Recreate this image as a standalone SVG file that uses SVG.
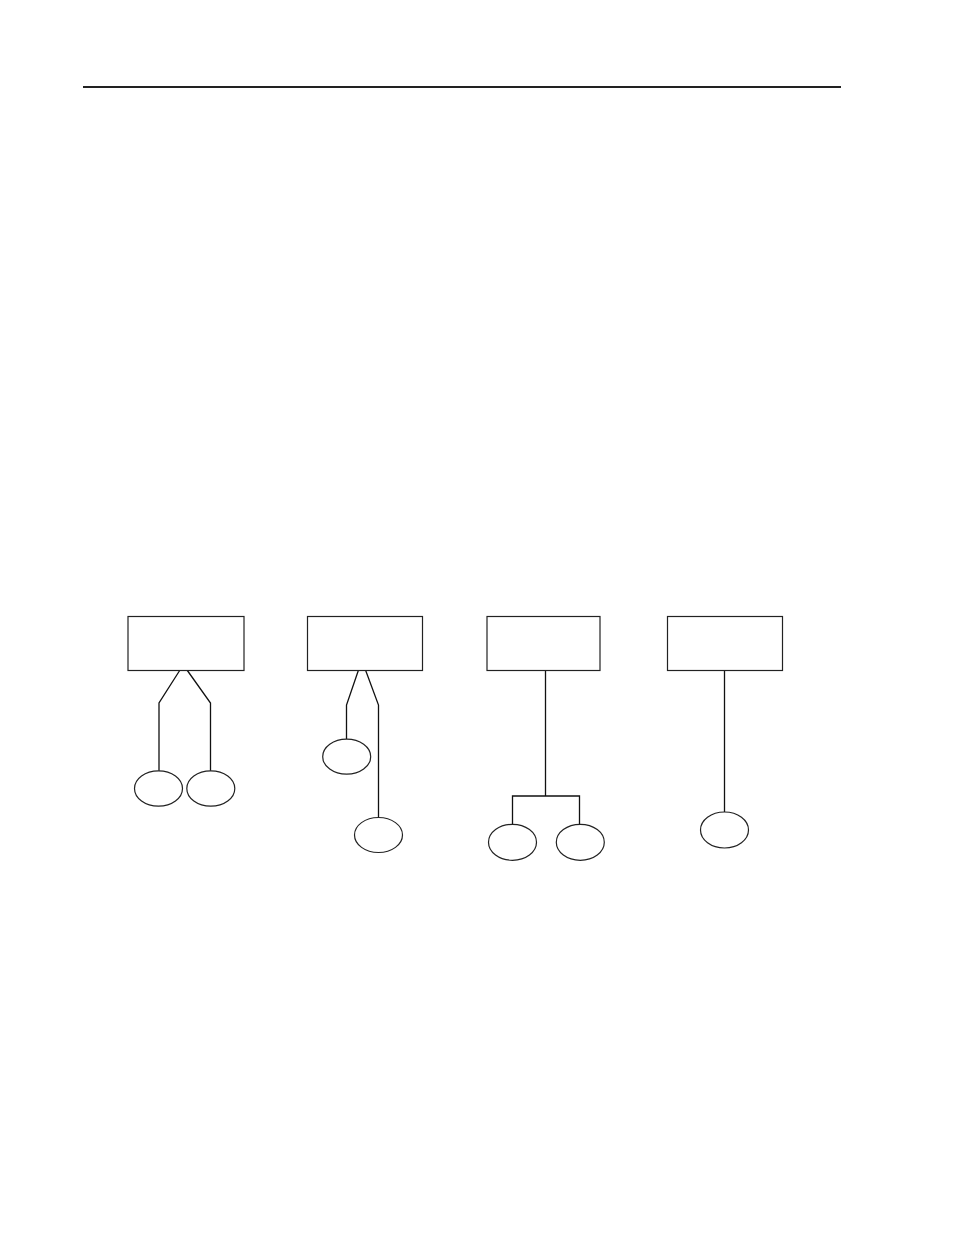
<svg xmlns="http://www.w3.org/2000/svg" width="954" height="1235" viewBox="0 0 954 1235">
<style>
.box{fill:#fff;stroke:#222;stroke-width:1.2}
.ell{fill:#fff;stroke:#222;stroke-width:1.2}
.con{fill:none;stroke:#111;stroke-width:1.3}
</style>
<rect width="954" height="1235" fill="#fff"/>
<line x1="83" y1="87" x2="841" y2="87" stroke="#222" stroke-width="2"/>
<g id="connectors">
<polyline class="con" points="180,670 159,703 159,771"/>
<polyline class="con" points="187,670 210.5,703 210.5,771"/>
<polyline class="con" points="358.5,670 346.5,705 346.5,739"/>
<polyline class="con" points="365.5,670 378.5,705 378.5,817.5"/>
<polyline class="con" points="545.5,670 545.5,796"/>
<polyline class="con" points="512.5,824 512.5,796 579.5,796 579.5,824"/>
<polyline class="con" points="724.5,671 724.5,812.5"/>
</g>
<g id="node-box1"><rect class="box" x="128" y="616.5" width="116" height="54"/></g>
<g id="node-box2"><rect class="box" x="307.5" y="616.5" width="115" height="54"/></g>
<g id="node-box3"><rect class="box" x="487" y="616.5" width="113" height="54"/></g>
<g id="node-box4"><rect class="box" x="667.5" y="616.5" width="115" height="54"/></g>
<g id="node-e1"><ellipse class="ell" cx="158.5" cy="788.5" rx="24" ry="17.7"/></g>
<g id="node-e2"><ellipse class="ell" cx="210.8" cy="788.5" rx="24" ry="17.7"/></g>
<g id="node-e3"><ellipse class="ell" cx="346.7" cy="756.7" rx="24" ry="17.5"/></g>
<g id="node-e4"><ellipse class="ell" cx="378.5" cy="835" rx="24" ry="17.5"/></g>
<g id="node-e5"><ellipse class="ell" cx="512.5" cy="842.3" rx="24" ry="18"/></g>
<g id="node-e6"><ellipse class="ell" cx="580.3" cy="842.3" rx="24" ry="18"/></g>
<g id="node-e7"><ellipse class="ell" cx="724.5" cy="830" rx="24" ry="18"/></g>
</svg>
